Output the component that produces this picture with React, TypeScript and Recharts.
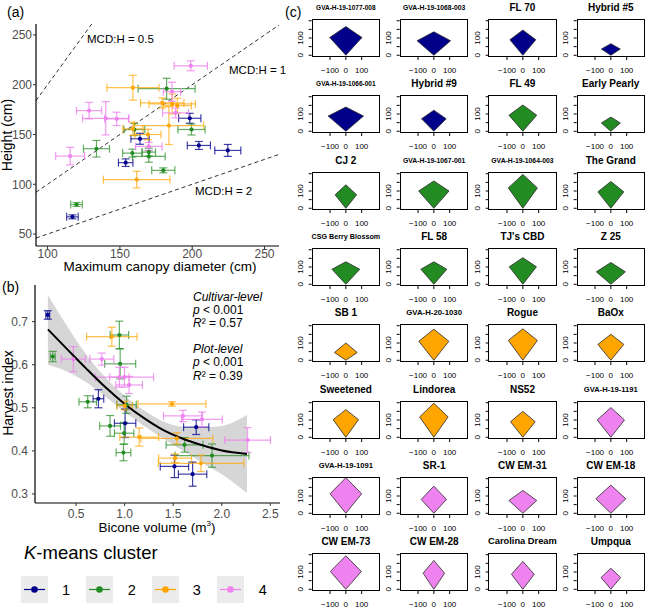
import React from 'react';
import {
  ComposedChart,
  ScatterChart,
  Scatter,
  ErrorBar,
  XAxis,
  YAxis,
  ReferenceLine,
  Area,
  Line,
} from 'recharts';

const FONT = '"Liberation Sans", Arial, Helvetica, sans-serif';
// K-means cluster colours (R: darkblue, forestgreen, orange, violet)
const COLORS = ['#00008B', '#228B22', '#FFA500', '#EE82EE'];
const BAR_COLORS = ['rgba(0,0,139,0.75)', 'rgba(34,139,34,0.7)', 'rgba(255,165,0,0.7)', 'rgba(238,130,238,0.8)'];
const CLUSTER_LABELS = ['1', '2', '3', '4'];

// (a) maximum canopy diameter vs height: [mcd, height, mcdErr, heightErr]
const mcdCluster1 = [
  [198.3, 166.3, 7.7, 5], [163.9, 145.7, 6.3, 5.5], [204.6, 139, 8, 4],
  [224.6, 134, 9, 6], [154, 121.7, 5, 3.8], [117.2, 67.3, 4, 2],
];
const mcdCluster2 = [
  [182.3, 196, 19.7, 10.5], [160, 155, 7.2, 6], [199.5, 155, 9.4, 5.5],
  [158.6, 131.3, 6.7, 4], [170, 132.3, 4.6, 4], [170, 128, 11.3, 5.8],
  [133.8, 135.7, 9, 8.3], [180, 114, 8, 2.5], [120, 79.7, 4, 2],
];
const mcdCluster3 = [
  [159, 197, 18, 12.5], [179.3, 181.7, 15, 5], [186.2, 180.7, 16, 10],
  [189.7, 179, 9.8, 7.5], [183.9, 159, 24, 19], [159, 155.7, 7, 6.7],
  [169.4, 150, 9, 5.3], [161.6, 104.7, 23, 8.3],
];
const mcdCluster4 = [
  [199, 219, 11.5, 5], [186, 193, 6, 9.5], [188.5, 171.7, 9, 5],
  [128.7, 174, 8.7, 8.3], [140.2, 166.3, 16, 16.7], [147.8, 165.7, 8.3, 6.7],
  [170, 138, 9.2, 4], [115.6, 128.3, 10, 8.8],
];
const mcdRatios = [0.5, 1, 2];
const mcdTicks = [100, 150, 200, 250];
const heightTicks = [50, 100, 150, 200, 250];

// (b) bicone volume vs harvest index: [volume, hi, volErr, hiErr]
const hiCluster1 = [
  [0.208, 0.7155, 0.02, 0.01], [0.73, 0.521, 0.055, 0.021], [1.005, 0.464, 0.11, 0.033],
  [1.737, 0.455, 0.13, 0.017], [1.513, 0.364, 0.146, 0.026], [1.7, 0.346, 0.146, 0.028],
];
const hiCluster2 = [
  [0.26, 0.619, 0.025, 0.012], [0.946, 0.669, 0.095, 0.032], [0.954, 0.602, 0.16, 0.035],
  [0.62, 0.514, 0.09, 0.014], [1.02, 0.507, 0.1, 0.02], [0.85, 0.458, 0.107, 0.024],
  [0.995, 0.441, 0.1, 0.025], [1.617, 0.414, 0.19, 0.017], [0.988, 0.396, 0.076, 0.019],
  [1.9, 0.389, 0.38, 0.027],
];
const hiCluster3 = [
  [0.868, 0.665, 0.26, 0.022], [1.0, 0.505, 0.08, 0.01], [1.487, 0.509, 0.35, 0.005],
  [1.15, 0.432, 0.2, 0.021], [1.538, 0.429, 0.37, 0.013], [1.52, 0.383, 0.17, 0.01],
  [1.786, 0.371, 0.44, 0.019],
];
const hiCluster4 = [
  [0.472, 0.613, 0.124, 0.029], [0.765, 0.613, 0.124, 0.014], [0.946, 0.571, 0.1, 0.023],
  [0.998, 0.571, 0.3, 0.023], [1.046, 0.553, 0.137, 0.02], [1.6, 0.481, 0.2, 0.013],
  [1.796, 0.473, 0.21, 0.017], [2.266, 0.425, 0.235, 0.029],
];
const fitX = [0.21, 0.4, 0.6, 0.8, 1.0, 1.2, 1.4, 1.6, 1.8, 2.0, 2.26];
const fitY = [0.682, 0.638, 0.592, 0.548, 0.509, 0.476, 0.448, 0.428, 0.413, 0.401, 0.393];
const bandLow = [0.6, 0.585, 0.56, 0.526, 0.49, 0.458, 0.428, 0.4, 0.372, 0.346, 0.302];
const bandHigh = [0.762, 0.692, 0.625, 0.571, 0.528, 0.494, 0.468, 0.456, 0.455, 0.458, 0.483];
const volTicks = [0.5, 1, 1.5, 2, 2.5];
const hiTicks = [0.3, 0.4, 0.5, 0.6, 0.7];

// (c) bicone outlines per cultivar
const cultivars = [
  'GVA-H-19-1077-008', 'GVA-H-19-1068-003', 'FL 70', 'Hybrid #5',
  'GVA-H-19-1066-001', 'Hybrid #9', 'FL 49', 'Early Pearly',
  'CJ 2', 'GVA-H-19-1067-001', 'GVA-H-19-1064-003', 'The Grand',
  'CSG Berry Blossom', 'FL 58', "TJ's CBD", 'Z 25',
  'SB 1', 'GVA-H-20-1030', 'Rogue', 'BaOx',
  'Sweetened', 'Lindorea', 'NS52', 'GVA-H-19-1191',
  'GVA-H-19-1091', 'SR-1', 'CW EM-31', 'CW EM-18',
  'CW EM-73', 'CW EM-28', 'Carolina Dream', 'Umpqua',
];
const cultivarCluster = [1, 1, 1, 1, 1, 1, 2, 2, 2, 2, 2, 2, 2, 2, 2, 2, 3, 3, 3, 3, 3, 3, 3, 4, 4, 4, 4, 4, 4, 4, 4, 4];
const halfWidth = [102, 106, 82, 60, 112, 78, 88, 60, 68, 96, 92, 82, 88, 82, 86, 92, 72, 95, 92, 82, 80, 90, 78, 86, 100, 80, 88, 95, 98, 68, 72, 62];
const midHeight = [103, 84, 90, 36, 88, 72, 93, 48, 78, 100, 118, 95, 87, 87, 101, 72, 45, 110, 115, 92, 102, 118, 90, 100, 113, 80, 74, 84, 103, 93, 87, 68];
const topHeight = [166, 136, 146, 67, 140, 122, 152, 82, 136, 158, 196, 155, 130, 130, 154, 126, 100, 180, 182, 150, 160, 197, 150, 172, 206, 157, 132, 163, 194, 167, 161, 122];
const smallXTicks = [-100, 0, 100];
const smallYTicks = [0, 50, 100, 150, 200];

// title sizes for the long cultivar names (R shrinks them)
const TITLE_SIZE: Record<string, number> = {
  'GVA-H-19-1077-008': 6.5, 'GVA-H-19-1068-003': 6.8, 'GVA-H-19-1066-001': 6.5,
  'GVA-H-19-1067-001': 6.8, 'GVA-H-19-1064-003': 6.8, 'CSG Berry Blossom': 7.2,
  'GVA-H-20-1030': 7.8, 'GVA-H-19-1191': 7.6, 'GVA-H-19-1091': 7.6, 'Carolina Dream': 9.3,
};

const toRows = (arr: number[][]) => arr.map(([x, y, ex, ey]) => ({ x, y, ex, ey }));
const mcdSeries = [mcdCluster1, mcdCluster2, mcdCluster3, mcdCluster4].map(toRows);
const hiSeries = [hiCluster1, hiCluster2, hiCluster3, hiCluster4].map(toRows);
const fitRows = fitX.map((x, i) => ({ x, fit: fitY[i] }));
const bandRows = fitX.map((x, i) => ({ x, band: [bandLow[i], bandHigh[i]] }));

const dot = (color: string) => (p: any) => <circle cx={p.cx} cy={p.cy} r={2.1} fill={color} />;

const axisTick = { fontSize: 12, fill: '#4d4d4d', fontFamily: FONT };

const abs = (left: number, top: number, extra: React.CSSProperties = {}): React.CSSProperties => ({
  position: 'absolute', left, top, ...extra,
});

function Text({ x, y, size, children, center, italic, rotate }: any) {
  return (
    <div
      style={{
        position: 'absolute', left: x, top: y, fontSize: size, lineHeight: 1, whiteSpace: 'nowrap',
        fontStyle: italic ? 'italic' : 'normal', color: '#000',
        transform: `translate(${center ? '-50%' : '0'}, -50%)${rotate ? ' rotate(-90deg)' : ''}`,
      }}
    >
      {children}
    </div>
  );
}

function PanelA() {
  return (
    <div style={abs(0, 0)}>
      <ScatterChart width={290} height={275} margin={{ top: 24, right: 11, bottom: 0, left: 0 }}>
        <XAxis type="number" dataKey="x" domain={[92, 260]} ticks={mcdTicks} allowDataOverflow height={29}
          tick={axisTick} tickSize={3} tickMargin={0} interval={0}
          tickLine={{ stroke: '#333' }} axisLine={{ stroke: '#000', strokeWidth: 1.2 }} />
        <YAxis type="number" dataKey="y" domain={[38, 261]} ticks={heightTicks} allowDataOverflow width={36}
          tick={axisTick} tickSize={3} tickMargin={1} interval={0}
          tickLine={{ stroke: '#333' }} axisLine={{ stroke: '#000', strokeWidth: 1.2 }} />
        {mcdRatios.map((r) => {
          const x1 = Math.min(260, 261 * r);
          return (
            <ReferenceLine key={r} segment={[{ x: 92, y: 92 / r }, { x: x1, y: x1 / r }]}
              stroke="#333" strokeDasharray="4 3" strokeWidth={1} />
          );
        })}
        {mcdSeries.map((rows, k) => (
          <Scatter key={k} data={rows} dataKey="y" shape={dot(COLORS[k])} isAnimationActive={false}>
            <ErrorBar dataKey="ex" direction="x" width={4} stroke={BAR_COLORS[k]} strokeWidth={1.2} />
            <ErrorBar dataKey="ey" direction="y" width={4} stroke={BAR_COLORS[k]} strokeWidth={1.2} />
          </Scatter>
        ))}
      </ScatterChart>
    </div>
  );
}

function PanelB() {
  return (
    <div style={abs(0, 260)}>
      <ComposedChart width={290} height={270} margin={{ top: 25, right: 10, bottom: 0, left: 0 }}>
        <XAxis type="number" dataKey="x" domain={[0.077, 2.6]} ticks={volTicks} allowDataOverflow height={27}
          tick={axisTick} tickSize={3} tickMargin={3} interval={0} tickFormatter={(v) => v.toFixed(1)}
          tickLine={{ stroke: '#333' }} axisLine={{ stroke: '#000', strokeWidth: 1.2 }} />
        <YAxis type="number" domain={[0.279, 0.785]} ticks={hiTicks} allowDataOverflow width={35}
          tick={axisTick} tickSize={3} tickMargin={4} interval={0} tickFormatter={(v) => v.toFixed(1)}
          tickLine={{ stroke: '#333' }} axisLine={{ stroke: '#000', strokeWidth: 1.2 }} />
        <Area data={bandRows} dataKey="band" type="monotone" fill="#999999" fillOpacity={0.4} stroke="none"
          isAnimationActive={false} dot={false} activeDot={false} />
        {hiSeries.map((rows, k) => (
          <Scatter key={k} data={rows} dataKey="y" shape={dot(COLORS[k])} isAnimationActive={false}>
            <ErrorBar dataKey="ex" direction="x" width={4} stroke={BAR_COLORS[k]} strokeWidth={1.2} />
            <ErrorBar dataKey="ey" direction="y" width={4} stroke={BAR_COLORS[k]} strokeWidth={1.2} />
          </Scatter>
        ))}
        <Line data={fitRows} dataKey="fit" type="monotone" stroke="#000" strokeWidth={2} dot={false}
          activeDot={false} isAnimationActive={false} />
      </ComposedChart>
    </div>
  );
}

function SmallYTick(props: any) {
  const { x, y, payload } = props;
  if (payload.value !== 0 && payload.value !== 100) return <g />;
  return (
    <text transform={`translate(${x - 3.5},${y}) rotate(-90)`} textAnchor="middle" fontSize={8} fill="#000"
      fontFamily={FONT}>
      {payload.value}
    </text>
  );
}

function SmallPlot({ i }: { i: number }) {
  const r = Math.floor(i / 4);
  const c = i % 4;
  const left = 290 + c * 88.3;
  const top = r * 76.3;
  const color = COLORS[cultivarCluster[i] - 1];
  const hw = halfWidth[i];
  const rows = [
    { x: -hw, r: [midHeight[i], midHeight[i]] },
    { x: 0, r: [0, topHeight[i]] },
    { x: hw, r: [midHeight[i], midHeight[i]] },
  ];
  const name = cultivars[i];
  return (
    <>
      <div style={abs(left, top)}>
        <ComposedChart width={92} height={76} margin={{ top: 19, right: 2, bottom: 0, left: 7.7 }}>
          <XAxis type="number" dataKey="x" domain={[-216, 216]} ticks={smallXTicks} allowDataOverflow height={19}
            axisLine={false} tickSize={3} tickMargin={7} interval={0} tickLine={{ stroke: '#000' }}
            tick={{ fontSize: 8, fill: '#000', fontFamily: FONT }}
            tickFormatter={(v) => (v < 0 ? `\u2212${-v}` : `${v}`)} />
          <YAxis type="number" domain={[-10, 210]} ticks={smallYTicks} allowDataOverflow width={14}
            axisLine={false} tickSize={3} tickMargin={2} interval={0} tickLine={{ stroke: '#000' }}
            tick={<SmallYTick />} />
          <Area data={rows} dataKey="r" type="linear" fill={color} fillOpacity={1} stroke="#2a2a2a"
            strokeWidth={0.8} isAnimationActive={false} dot={false} activeDot={false} />
        </ComposedChart>
      </div>
      <div style={abs(left + 21.7, top + 19, { width: 68.3, height: 38, border: '1px solid #000', boxSizing: 'border-box' })} />
      <div style={{
        position: 'absolute', left: left + 55.85, top: top + 8, transform: 'translate(-50%, -50%)',
        fontSize: TITLE_SIZE[name] ?? 10, fontWeight: 'bold', whiteSpace: 'nowrap', lineHeight: 1,
      }}>
        {name}
      </div>
    </>
  );
}

function LegendKey({ k, left }: { k: number; left: number }) {
  return (
    <svg style={abs(left, 576)} width={27} height={27}>
      <rect x={0} y={0} width={27} height={27} fill="#ebebeb" />
      <line x1={3} y1={13.5} x2={24} y2={13.5} stroke={COLORS[k]} strokeWidth={1.2} />
      <circle cx={13.5} cy={13.5} r={3.3} fill={COLORS[k]} />
    </svg>
  );
}

export default function App() {
  const keyLefts = [20.7, 86, 151.7, 217.3];
  const keyLabelX = [66, 131.7, 196.7, 262.7];
  return (
    <div style={{ position: 'absolute', left: 0, top: 0, width: 646, height: 611, background: '#fff',
      overflow: 'hidden', fontFamily: FONT }}>
      <PanelA />
      <PanelB />

      <Text x={7} y={12} size={14}>(a)</Text>
      <Text x={2} y={287} size={14}>(b)</Text>
      <Text x={285} y={12} size={14}>(c)</Text>

      <Text x={6.5} y={135} size={14} center rotate>Height (cm)</Text>
      <Text x={160} y={267} size={13.5} center>Maximum canopy diameter (cm)</Text>
      <Text x={8.3} y={393} size={14} center rotate>Harvest index</Text>
      <Text x={157} y={527} size={13.5} center>Bicone volume (m<sup style={{ fontSize: 8 }}>3</sup>)</Text>

      <Text x={87} y={40} size={11.5}>MCD:H = 0.5</Text>
      <Text x={229} y={71} size={11.5}>MCD:H = 1</Text>
      <Text x={195} y={192} size={11.5}>MCD:H = 2</Text>

      <Text x={193} y={297} size={12} italic>Cultivar-level</Text>
      <Text x={193} y={310} size={12}><i>p</i> &lt; 0.001</Text>
      <Text x={193} y={323} size={12}><i>R</i>&sup2; = 0.57</Text>
      <Text x={193} y={349} size={12} italic>Plot-level</Text>
      <Text x={193} y={362} size={12}><i>p</i> &lt; 0.001</Text>
      <Text x={193} y={376} size={12}><i>R</i>&sup2; = 0.39</Text>

      <Text x={24} y={553} size={18.5}><i>K</i>-means cluster</Text>
      {CLUSTER_LABELS.map((lab, k) => (
        <React.Fragment key={k}>
          <LegendKey k={k} left={keyLefts[k]} />
          <Text x={keyLabelX[k]} y={589.5} size={14.5} center>{lab}</Text>
        </React.Fragment>
      ))}

      {cultivars.map((_, i) => (
        <SmallPlot key={i} i={i} />
      ))}
    </div>
  );
}
